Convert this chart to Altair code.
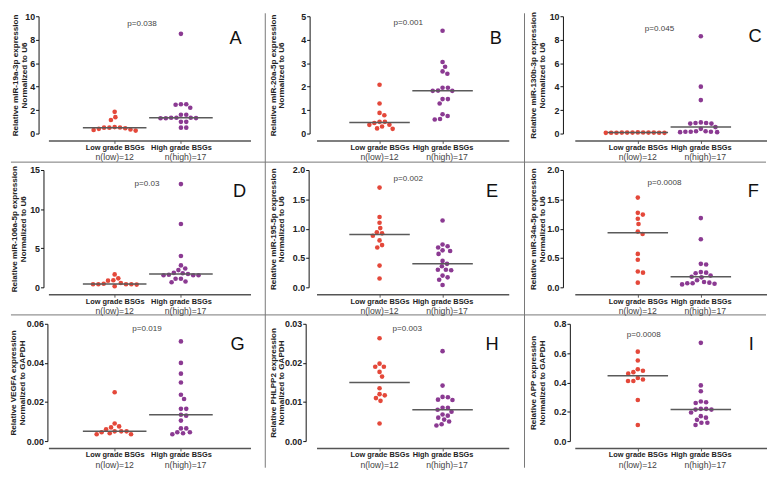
import altair as alt
import pandas as pd

# ---------------- data ----------------
groups = ["Low grade BSGs", "High grade BSGs"]
n_labels = ["n(low)=12", "n(high)=17"]
letters = ["A", "B", "C", "D", "E", "F", "G", "H", "I"]
p_values = ["p=0.038", "p=0.001", "p=0.045", "p=0.03", "p=0.002",
            "p=0.0008", "p=0.019", "p=0.003", "p=0.0008"]
y_titles = [
    ["Relative miR-19a-3p expression", "Normalized to U6"],
    ["Relative miR-20a-5p expression", "Normalized to U6"],
    ["Relative miR-130b-3p expression", "Normalized to U6"],
    ["Relative miR-106a-5p expression", "Normalized to U6"],
    ["Relative miR-195-5p expression", "Normalized to U6"],
    ["Relative miR-34a-5p expression", "Normalized to U6"],
    ["Relative VEGFA expression", "Normalized to GAPDH"],
    ["Relative PHLPP2 expression", "Normalized to GAPDH"],
    ["Relative APP expression", "Normalized to GAPDH"],
]
y_max = [10, 5, 10, 15, 2.0, 2.0, 0.06, 0.03, 0.8]
y_ticks = [
    [0, 2, 4, 6, 8, 10],
    [0, 1, 2, 3, 4, 5],
    [0, 2, 4, 6, 8, 10],
    [0, 5, 10, 15],
    [0.0, 0.5, 1.0, 1.5, 2.0],
    [0.0, 0.5, 1.0, 1.5, 2.0],
    [0.00, 0.02, 0.04, 0.06],
    [0.00, 0.01, 0.02, 0.03],
    [0.0, 0.2, 0.4, 0.6, 0.8],
]
y_formats = ["d", "d", "d", "d", ".1f", ".1f", ".2f", ".2f", ".1f"]

A_low = [1.85, 1.4, 1.15, 0.55, 0.52, 0.5, 0.5, 0.45, 0.4, 0.35, 0.3, 0.25]
A_high = [8.5, 2.5, 2.5, 2.45, 2.2, 1.6, 1.6, 1.35, 1.35, 1.35, 1.32, 1.3, 1.3, 1.0, 1.0, 0.5, 0.5]
B_low = [2.08, 1.28, 0.88, 0.78, 0.5, 0.5, 0.45, 0.38, 0.37, 0.3, 0.22, 0.2]
B_high = [4.38, 3.05, 2.85, 2.65, 2.55, 1.95, 1.95, 1.83, 1.82, 1.82, 1.47, 1.47, 1.28, 0.82, 0.75, 0.62, 0.6]
C_low = [0.1, 0.08, 0.08, 0.07, 0.08, 0.06, 0.07, 0.08, 0.09, 0.07, 0.06, 0.08]
C_high = [8.3, 4.0, 2.85, 0.95, 0.9, 0.9, 0.85, 0.85, 0.55, 0.4, 0.2, 0.15, 0.15, 0.12, 0.12, 0.15, 0.2]
D_low = [1.65, 1.15, 0.9, 0.85, 0.55, 0.45, 0.4, 0.4, 0.4, 0.4, 0.35, 0.15]
D_high = [13.2, 8.1, 4.0, 2.8, 2.4, 2.2, 1.85, 1.8, 1.7, 1.55, 1.55, 1.55, 1.6, 1.1, 1.1, 0.75, 0.65]
E_low = [1.7, 1.2, 1.1, 1.01, 0.94, 0.92, 0.88, 0.8, 0.72, 0.68, 0.37, 0.15]
E_high = [1.14, 0.73, 0.7, 0.68, 0.63, 0.62, 0.57, 0.45, 0.4, 0.36, 0.3, 0.3, 0.29, 0.2, 0.17, 0.13, 0.04]
F_low = [1.53, 1.27, 1.24, 1.17, 1.08, 0.95, 0.91, 0.57, 0.47, 0.27, 0.25, 0.08]
F_high = [1.18, 0.82, 0.4, 0.39, 0.26, 0.25, 0.24, 0.2, 0.18, 0.17, 0.12, 0.08, 0.07, 0.05, 0.06, 0.07, 0.09]
G_low = [0.025, 0.009, 0.0075, 0.007, 0.006, 0.005, 0.005, 0.005, 0.0045, 0.004, 0.0035, 0.0035]
G_high = [0.051, 0.040, 0.0345, 0.030, 0.0237, 0.0215, 0.0165, 0.0165, 0.0135, 0.013, 0.0105,
          0.0065, 0.0065, 0.0045, 0.0045, 0.0035, 0.004]
H_low = [0.0263, 0.0198, 0.019, 0.019, 0.0177, 0.0165, 0.0135, 0.012, 0.0117, 0.011, 0.0103, 0.0045]
H_high = [0.023, 0.0142, 0.0113, 0.0112, 0.0106, 0.0105, 0.0085, 0.0085, 0.008, 0.0075, 0.0068,
          0.0065, 0.006, 0.0055, 0.005, 0.0043, 0.004]
I_low = [0.61, 0.55, 0.49, 0.48, 0.47, 0.46, 0.43, 0.42, 0.41, 0.41, 0.28, 0.11]
I_high = [0.67, 0.38, 0.34, 0.27, 0.265, 0.26, 0.22, 0.22, 0.215, 0.215, 0.195, 0.17, 0.16,
          0.145, 0.125, 0.125, 0.11]

low_vals = [A_low, B_low, C_low, D_low, E_low, F_low, G_low, H_low, I_low]
high_vals = [A_high, B_high, C_high, D_high, E_high, F_high, G_high, H_high, I_high]

# ---------------- layout / style ----------------
colors = ["#e4483a", "#8b3a92"]
FONT = "Liberation Sans"
widths = [205, 195, 195]
HEIGHT = 119
x_dom = [-1.0, 2.05]
y_axis_offset = [10, 7, 12, 5, 8, 12, 1, 11, 5]
title_x = [-19, -33, -26, -25, -32, -26, -30, -29, -33]
p_pos = [(95, 8), (93, 7), (86, 13), (100, 14), (93, 9), (91, 13), (100, 5), (92, 5), (70, 11)]
letter_pos = [(190, 22), (182, 22), (183, 20), (194, 21), (178, 21), (181, 21),
              (192, 21), (178, 21), (179, 21)]
DOT = 5.4  # dot diameter in px, used for the swarm layout


def swarm(vals, ppy, d=DOT):
    """Simple beeswarm: horizontal pixel offset for each value."""
    order = sorted(range(len(vals)), key=lambda k: -vals[k])
    placed = []
    out = [0.0] * len(vals)
    for k in order:
        y = vals[k] * ppy
        cands = [0.0]
        for (px, py) in placed:
            dy = abs(py - y)
            if dy < d:
                dx = (d * d - dy * dy) ** 0.5
                cands += [px + dx + 0.01, px - dx - 0.01]
        cands.sort(key=lambda c: (abs(c), -c))
        chosen = 0.0
        for c in cands:
            if all((c - px) ** 2 + (y - py) ** 2 >= d * d - 1e-6 for px, py in placed):
                chosen = c
                break
        placed.append((chosen, y))
        out[k] = chosen
    return out


one = pd.DataFrame({"k": [0]})


def panel(i):
    col = i % 3
    w = widths[col]
    ppx = w / (x_dom[1] - x_dom[0])
    ppy = HEIGHT / y_max[i]
    rows = []
    for gi, vals in enumerate([low_vals[i], high_vals[i]]):
        offs = swarm(vals, ppy)
        for v, o in zip(vals, offs):
            rows.append({"group": groups[gi], "gi": gi, "value": v, "xpos": gi + o / ppx})
    df = pd.DataFrame(rows)

    xs = alt.Scale(domain=x_dom, nice=False, zero=False)
    ys = alt.Scale(domain=[0, y_max[i]], nice=False, zero=True)

    x_axis = alt.Axis(
        values=[0, 1], tickCount=10,
        labelExpr=f"datum.value == 0 ? '{groups[0]}' : '{groups[1]}'",
        title="", grid=False, offset=7,
        labelFontSize=7.5, labelFontWeight="bold", labelColor="#222", labelPadding=0,
        labelOverlap=False, labelFlush=False,
        tickSize=3, tickColor="#555", domainColor="#555", domainWidth=1.5,
    )
    y_axis = alt.Axis(
        values=y_ticks[i], tickCount=20, format=y_formats[i],
        title=y_titles[i], titleX=title_x[i],
        titleFontSize=8.2, titleFontWeight="bold", titleLineHeight=9, titleColor="#222",
        labelFontSize=9, labelFontWeight="bold", labelColor="#222", labelPadding=1,
        labelOverlap=False, labelFlush=False,
        tickSize=3, tickColor="#111", domainColor="#111", domainWidth=1,
        offset=y_axis_offset[i], grid=False,
    )

    pts = alt.Chart(df).mark_circle(size=22, opacity=1).encode(
        x=alt.X("xpos:Q", scale=xs, axis=x_axis),
        y=alt.Y("value:Q", scale=ys, axis=y_axis),
        color=alt.Color("group:N", scale=alt.Scale(domain=groups, range=colors), legend=None),
    )
    med = alt.Chart(df).transform_aggregate(
        value="median(value)", groupby=["gi"]
    ).transform_calculate(
        xpos="datum.gi - 0.48", xend="datum.gi + 0.48"
    ).mark_rule(color="#5a5a5a", strokeWidth=1.5).encode(
        x=alt.X("xpos:Q", scale=xs),
        x2="xend:Q",
        y=alt.Y("value:Q", scale=ys),
    )
    ndf = pd.DataFrame({"label": n_labels, "xpos": [0.0, 1.07]})
    ntext = alt.Chart(ndf).mark_text(
        fontSize=8.8, color="#444", baseline="middle", align="center"
    ).encode(
        x=alt.X("xpos:Q", scale=xs),
        y=alt.value(HEIGHT + 24),
        text="label:N",
    )
    ptext = alt.Chart(one).mark_text(
        text=p_values[i], fontSize=8.2, color="#444", baseline="middle", align="center"
    ).encode(x=alt.value(p_pos[i][0]), y=alt.value(p_pos[i][1]))
    ltext = alt.Chart(one).mark_text(
        text=letters[i], fontSize=18.5, color="#111", baseline="middle", align="center"
    ).encode(x=alt.value(letter_pos[i][0]), y=alt.value(letter_pos[i][1]))

    layers = [pts, med, ntext, ptext, ltext]
    if i == 0:
        sep = dict(color="#777", strokeWidth=1)
        layers += [
            alt.Chart(one).mark_rule(**sep).encode(x=alt.value(220), y=alt.value(-3), y2=alt.value(458)),
            alt.Chart(one).mark_rule(**sep).encode(x=alt.value(483), y=alt.value(-3), y2=alt.value(458)),
            alt.Chart(one).mark_rule(**sep).encode(x=alt.value(-38), x2=alt.value(728), y=alt.value(148)),
            alt.Chart(one).mark_rule(**sep).encode(x=alt.value(-38), x2=alt.value(728), y=alt.value(303)),
        ]
    return alt.layer(*layers).properties(width=w, height=HEIGHT)


chart = alt.concat(
    *[panel(i) for i in range(9)],
    columns=3,
    spacing={"row": 37, "column": 67},
    bounds="flush",
).properties(padding=0).configure(font=FONT).configure_view(strokeWidth=0)

chart.save("out.html", embed_options={"renderer": "svg", "actions": False})
